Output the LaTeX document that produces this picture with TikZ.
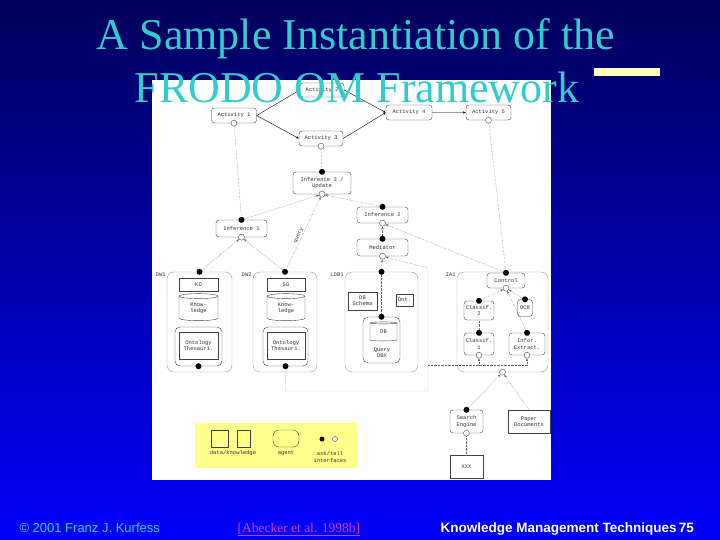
\documentclass[tikz,border=0pt]{standalone}
\usepackage{fontspec}
\setmainfont{Liberation Serif}
\setsansfont{Liberation Sans}
\setmonofont{Liberation Mono}
\usepackage{xcolor}
\usetikzlibrary{arrows.meta,positioning,shapes.geometric}

\definecolor{titlecyan}{RGB}{51,204,204}
\definecolor{navy}{RGB}{0,0,90}
\definecolor{brightblue}{RGB}{0,0,250}
\definecolor{legendyellow}{RGB}{255,255,140}
\definecolor{paleyellow}{RGB}{255,255,190}
\definecolor{citemagenta}{RGB}{204,60,204}

\begin{document}
\begin{tikzpicture}[
    x=1pt, y=-1pt,
    >={Stealth[length=3pt,width=2.4pt]},
    tiny/.style={font=\fontsize{5.5}{6.2}\selectfont\ttfamily, text=black!80},
    sz/.style 2 args={minimum width=#1pt, minimum height=#2pt},
    agent/.style={tiny, draw=black!75, rounded corners=3pt, inner sep=0pt, align=center},
    data/.style={tiny, draw=black!75, inner sep=0pt, align=center},
    kb/.style={tiny, cylinder, shape border rotate=90, aspect=0.3, draw=black!75, inner sep=0pt, align=center},
    group/.style={draw=black!40, rounded corners=7pt},
    glabel/.style={tiny, anchor=north east, inner sep=1pt},
    ask/.style={circle, fill=black, inner sep=0pt, minimum size=6pt},
    tell/.style={circle, draw=black!70, fill=white, inner sep=0pt, minimum size=6pt},
    link/.style={densely dotted, black!60}
  ]
  \useasboundingbox (0,0) rectangle (720,540);
  \shade[top color=navy, bottom color=brightblue] (0,0) rectangle (720,540);
  \fill[white] (152,80) rectangle (551,480);

  % process layer
  \node[agent, sz={45}{15}] (act1) at (234,115.5) {Activity 1};
  \node[agent, sz={44}{14}] (act2) at (322,90) {Activity 2};
  \node[agent, sz={44}{15}] (act3) at (321,138.5) {Activity 3};
  \node[agent, sz={46}{15}] (act4) at (409,112.5) {Activity 4};
  \node[agent, sz={45}{15}] (act5) at (488.5,112.5) {Activity 5};

  % inference agents
  \node[agent, sz={58}{22}] (inf3) at (322,183) {Inference 3 /\\Update};
  \node[agent, sz={51}{16}] (inf2) at (382.5,215) {Inference 2};
  \node[agent, sz={51}{17}] (inf1) at (241.5,228.5) {Inference 1};
  \node[agent, sz={51}{17}] (med) at (382.5,247.5) {Mediator};

  % domain and information sources
  \node[group, sz={65}{100}, label={[glabel]north west:DW1}] (dw1) at (199.5,322) {};
  \node[group, sz={64}{100}, label={[glabel]north west:DW2}] (dw2) at (285,322) {};
  \node[group, sz={73}{100}, label={[glabel]north west:LDB1}] (ldb1) at (381.5,322) {};
  \node[group, sz={91}{100}, label={[glabel]north west:IA1}] (ia1) at (502.5,322) {};

  \node[data, sz={39}{13}] (kd) at (198.5,284.5) {KD};
  \node[kb, sz={39}{27}] (kb1) at (198.5,308.5) {Know-\\ledge};
  \node[agent, sz={47}{39}, rounded corners=5pt] (ont1) at (198.5,346.5) {};
  \node[data, sz={39}{27}] (ont1in) at (198.5,345.5) {Ontology\\Thesauri.};

  \node[data, sz={38}{13}] (sg) at (286,284.5) {SG};
  \node[kb, sz={38}{27}] (kb2) at (286,308.5) {Know-\\ledge};
  \node[agent, sz={45}{39}, rounded corners=5pt] (ont2) at (285.5,346.5) {};
  \node[data, sz={38}{27}] (ont2in) at (286,345.5) {Ontology\\Thesauri.};

  \node[data, sz={29}{18}] (schema) at (362.5,301) {DB\\Schema};
  \node[data, sz={17}{12}] (ont) at (404.5,300) {Ont.};
  \node[agent, sz={37}{46}, rounded corners=5pt] (dbq) at (381.5,340) {};
  \node[kb, sz={27}{19}] (dbkb) at (383.5,332) {DB};
  \node[tiny, align=center, inner sep=0pt] (dbqtxt) at (382,353) {Query\\DBX};

  \node[agent, sz={38}{15}] (ctrl) at (506,280.5) {Control};
  \node[agent, sz={30}{19}] (cls2) at (479,310.5) {Classif.\\2};
  \node[agent, sz={15}{17}] (ocr) at (525,308) {OCR};
  \node[agent, sz={30}{22}] (cls1) at (479,344) {Classif.\\1};
  \node[agent, sz={36}{22}] (iex) at (527,344) {Infor.\\Extract.};

  \node[agent, sz={33}{23}] (se) at (466.5,421.5) {Search\\Engine};
  \node[data, sz={42}{23}] (paper) at (529,421.5) {Paper\\Documents};
  \node[data, sz={33}{23}] (xxx) at (466.5,466.5) {XXX};

  % ask / tell interfaces
  \node[tell] (act1t) at (act1.south) {};
  \node[tell] (act3t) at (act3.south) {};
  \node[tell] (act5t) at (act5.south) {};
  \node[ask] (inf3a) at (inf3.north) {};
  \node[tell] (inf3t) at (inf3.south) {};
  \node[ask] (inf2a) at (inf2.north) {};
  \node[tell] (inf2t) at (inf2.south) {};
  \node[ask] (inf1a) at (inf1.north) {};
  \node[tell] (inf1t) at (inf1.south) {};
  \node[ask] (meda) at (med.north) {};
  \node[tell] (medt) at (med.south) {};
  \node[ask] (dw1a) at (dw1.north) {};
  \node[ask] (dw2a) at (dw2.north) {};
  \node[ask] (ldba) at (ldb1.north) {};
  \node[ask] (ont1a) at (ont1.south) {};
  \node[ask] (ont2a) at (ont2.south) {};
  \node[ask] (dbqa) at (dbq.north) {};
  \node[ask] (ctrla) at (ctrl.north) {};
  \node[tell] (ctrlt) at (ctrl.south) {};
  \node[ask] (cls2a) at (cls2.north) {};
  \node[ask] (ocra) at (ocr.north) {};
  \node[ask] (cls1a) at (cls1.north) {};
  \node[tell] (cls1t) at (cls1.south) {};
  \node[ask] (iexa) at (iex.north) {};
  \node[tell] (iext) at (iex.south) {};
  \node[tell] (ia1t) at (ia1.south) {};
  \node[ask] (sea) at (se.north) {};
  \node[tell] (set) at (se.south) {};

  % workflow
  \draw[->] (act1.east) -- (act2.west);
  \draw[->] (act1.east) -- (act3.west);
  \draw[->] (act2.east) -- (act4.west);
  \draw[->] (act3.east) -- (act4.west);
  \draw[-{Stealth[length=3pt,width=2.4pt,color=black]}, black!40, line width=1.2pt] (act4) -- (act5);

  % dotted ask/tell links
  \draw[link] (act1t) -- (inf1a);
  \draw[link] (act3t) -- (inf3a);
  \draw[link] (act5t) -- (ctrla);
  \draw[link,->] (inf1a) -- (inf3t);
  \draw[link,->] (inf2a) -- (inf3t);
  \draw[link,->] (dw2a) -- node[tiny, sloped, above, pos=0.45, inner sep=1pt] {query} (inf3t);
  \draw[link,->] (dw1a) -- (inf1t);
  \draw[link,->] (dw2a) -- (inf1t);
  \draw[link,->] (meda) -- (inf2t);
  \draw[link,->] (ctrla) -- (inf2t);
  \draw[link,->] (ldba) -- (medt);
  \draw[link] (ldba) -- (dbqa);

  \coordinate (bendL) at (428,391);
  \coordinate (bendU) at (428,268);
  \coordinate (busL) at (428,365);
  \coordinate (busM) at (479,365);
  \coordinate (busR) at (527,365);
  \draw[link,->] (ont2a) |- (bendL) -- (bendU) -- (medt);
  \draw[link] (busL) -- (busR);
  \draw[link,->] (busM) -- (cls1t);
  \draw[link,->] (busR) -- (iext);

  \draw[link,->] (cls2a) -- (ctrlt);
  \draw[link,->] (ocra) -- (ctrlt);
  \draw[link,->] (iexa) -- (ctrlt);
  \draw[link] (cls1a) -- (cls2);
  \draw[link,->] (sea) -- (ia1t);
  \draw[link,->] (paper.north) -- (ia1t);
  \draw[link] (set) -- (xxx);

  % legend
  \node[fill=legendyellow, sz={162}{45}, inner sep=0pt] (legend) at (276,445.5) {};
  \node[data, sz={17}{17}] (legdata) at (219.5,438.5) {};
  \node[kb, sz={13}{17}, aspect=0.6] (legkb) at (243.5,438.5) {};
  \node[agent, sz={26}{17}, rounded corners=6pt] (legagent) at (286,438.5) {};
  \node[ask, minimum size=5pt] (legask) at (322,439) {};
  \node[tell, minimum size=5pt] (legtell) at (335,439) {};
  \node[tiny] (legdatatxt) at (233,453) {data/knowledge};
  \node[tiny] (legagenttxt) at (286,453) {agent};
  \node[tiny, align=center] (legporttxt) at (330,457) {ask/tell\\interfaces};

  % slide decoration
  \node[fill=paleyellow, sz={66}{8}, inner sep=0pt] (bar) at (627,72) {};
  \node[anchor=base, text=titlecyan, font=\fontsize{44}{50}\selectfont] (title1) at (356,50) {A Sample Instantiation of the};
  \node[anchor=base, text=titlecyan, font=\fontsize{44}{50}\selectfont] (title2) at (357,103) {FRODO OM Framework};
  \node[anchor=base west, text=titlecyan, font=\sffamily\fontsize{13}{15}\selectfont] (copy) at (16,532) {\textcopyright{} 2001 Franz J. Kurfess};
  \node[anchor=base west, text=citemagenta, font=\fontsize{13.5}{15}\selectfont] (cite) at (234,532) {\underline{[Abecker et al. 1998b]}};
  \node[anchor=base west, text=white, font=\sffamily\bfseries\fontsize{13.5}{15}\selectfont] (course) at (437,532) {Knowledge Management Techniques\,75};
\end{tikzpicture}
\end{document}
